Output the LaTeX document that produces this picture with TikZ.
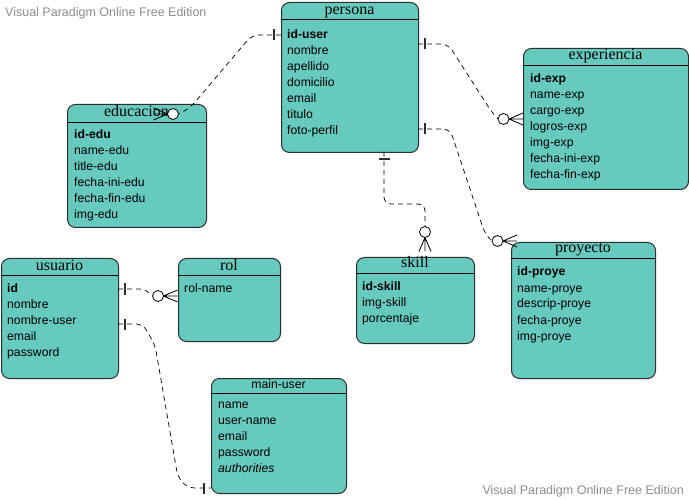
\documentclass[tikz,border=0pt]{standalone}
\usepackage{fontspec}
\setmainfont{Liberation Serif}
\setsansfont{Liberation Sans}

\definecolor{vpteal}{RGB}{102,202,190}
\definecolor{vpline}{RGB}{45,45,45}
\definecolor{vpgray}{RGB}{140,140,140}

\begin{document}
\begin{tikzpicture}[x=1pt,y=-1pt,
  entity/.style={draw=vpline,fill=vpteal,line width=1pt,rounded corners=8pt,anchor=north west,inner sep=0pt},
  etitle/.style={anchor=base,inner sep=0pt,font=\fontsize{16}{18}\selectfont},
  attr/.style={anchor=base west,inner sep=0pt,font=\sffamily\fontsize{12.2}{14}\selectfont},
  wmark/.style={inner sep=0pt,text=vpgray,font=\sffamily\fontsize{12.5}{14}\selectfont},
  hline/.style={line width=.8pt},
  conn/.style={line width=.7pt,dash pattern=on 5pt off 4pt,rounded corners=7pt},
  one/.pic={\draw[vpline,line width=1.6pt] (7,-5.5) -- (7,5.5);},
  zeromany/.pic={
    \draw[line width=.8pt] (-14,0) -- (0,-6) (-14,0) -- (0,0) (-14,0) -- (0,6);
    \draw[line width=.8pt,fill=white] (-19.5,0) circle (5.5);
    \coordinate (-e) at (-25,0);}]
  \useasboundingbox (0,0) rectangle (689,500);

  % persona
  \node[entity,minimum width=137pt,minimum height=150pt] (persona) at (281,2) {};
  \node[etitle] (persona-t) at (349.5,15) {persona};
  \draw[hline] (281,19) -- (418,19);
  \foreach \a [count=\i] in {\textbf{id-user},nombre,apellido,domicilio,email,titulo,foto-perfil}
    \node[attr] (persona-\i) at (287,23+16*\i) {\a};

  % educacion
  \node[entity,minimum width=139pt,minimum height=123pt] (educacion) at (67,104) {};
  \node[etitle] (educacion-t) at (136.5,117) {educacion};
  \draw[hline] (67,122) -- (206,122);
  \foreach \a [count=\i] in {\textbf{id-edu},name-edu,title-edu,fecha-ini-edu,fecha-fin-edu,img-edu}
    \node[attr] (educacion-\i) at (74,123+16*\i) {\a};

  % experiencia
  \node[entity,minimum width=165pt,minimum height=141pt] (experiencia) at (523,48) {};
  \node[etitle] (experiencia-t) at (605.5,60) {experiencia};
  \draw[hline] (523,65) -- (688,65);
  \foreach \a [count=\i] in {\textbf{id-exp},name-exp,cargo-exp,logros-exp,img-exp,fecha-ini-exp,fecha-fin-exp}
    \node[attr] (experiencia-\i) at (530,67+16*\i) {\a};

  % skill
  \node[entity,minimum width=118pt,minimum height=86pt] (skill) at (356,257) {};
  \node[etitle] (skill-t) at (415,268) {skill};
  \draw[hline] (356,273) -- (474,273);
  \foreach \a [count=\i] in {\textbf{id-skill},img-skill,porcentaje}
    \node[attr] (skill-\i) at (362,274.5+16*\i) {\a};

  % proyecto
  \node[entity,minimum width=144pt,minimum height=136pt] (proyecto) at (511,242) {};
  \node[etitle] (proyecto-t) at (583,253) {proyecto};
  \draw[hline] (511,258) -- (655,258);
  \foreach \a [count=\i] in {\textbf{id-proye},name-proye,descrip-proye,fecha-proye,img-proye}
    \node[attr] (proyecto-\i) at (517,260+16*\i) {\a};

  % usuario
  \node[entity,minimum width=117pt,minimum height=120pt] (usuario) at (1,258) {};
  \node[etitle] (usuario-t) at (59.5,270) {usuario};
  \draw[hline] (1,275) -- (118,275);
  \foreach \a [count=\i] in {\textbf{id},nombre,nombre-user,email,password}
    \node[attr] (usuario-\i) at (7,276.5+16*\i) {\a};

  % rol
  \node[entity,minimum width=102pt,minimum height=83pt] (rol) at (178,258) {};
  \node[etitle] (rol-t) at (229,270) {rol};
  \draw[hline] (178,275) -- (280,275);
  \node[attr] (rol-1) at (184,292.5) {rol-name};

  % main-user
  \node[entity,minimum width=135pt,minimum height=115pt] (mainuser) at (211,378) {};
  \node[attr,anchor=base] (mainuser-t) at (278.5,388.5) {main-user};
  \draw[hline] (211,393) -- (346,393);
  \foreach \a [count=\i] in {name,user-name,email,password,\textit{authorities}}
    \node[attr] (mainuser-\i) at (218,392+16*\i) {\a};

  % end points
  \coordinate (p-edu) at (281,35);
  \coordinate (p-exp) at (418,44);
  \coordinate (p-pro) at (418,129);
  \coordinate (p-ski) at (384,152);
  \coordinate (u-rol) at (118,289);
  \coordinate (u-main) at (118,324);
  \coordinate (m-usr) at (211,488);

  % crow's feet
  \pic[rotate=180] (eduM) at (153.5,114) {zeromany};
  \pic (expM) at (523,119) {zeromany};
  \pic (proM) at (517,241) {zeromany};
  \pic[rotate=-90] (skiM) at (425,251.5) {zeromany};
  \pic (rolM) at (177.5,296) {zeromany};

  % bars
  \pic[rotate=180] at (p-edu) {one};
  \pic at (p-exp) {one};
  \pic at (p-pro) {one};
  \pic[rotate=-90] at (p-ski) {one};
  \pic at (u-rol) {one};
  \pic at (u-main) {one};
  \pic[rotate=180] at (m-usr) {one};

  % relations
  \draw[conn] (p-edu) -- (252,35) -- (190,108) -- (eduM-e);
  \draw[conn] (p-exp) -- (448,44) -- (493,114) -- (expM-e);
  \draw[conn] (p-pro) -- (450,129) -- (485,234) -- (proM-e);
  \draw[conn] (p-ski) -- (384,204) -- (425,204) -- (skiM-e);
  \draw[conn] (u-rol) -- (146,289) -- (rolM-e);
  \draw[conn] (u-main) -- (143,324) -- (155,345) -- (178,478) -- (188,488) -- (m-usr);

  % watermarks
  \node[wmark,anchor=base west] (wm-top) at (5,16.5) {Visual Paradigm Online Free Edition};
  \node[wmark,anchor=base east] (wm-bot) at (684,494) {Visual Paradigm Online Free Edition};
\end{tikzpicture}
\end{document}
